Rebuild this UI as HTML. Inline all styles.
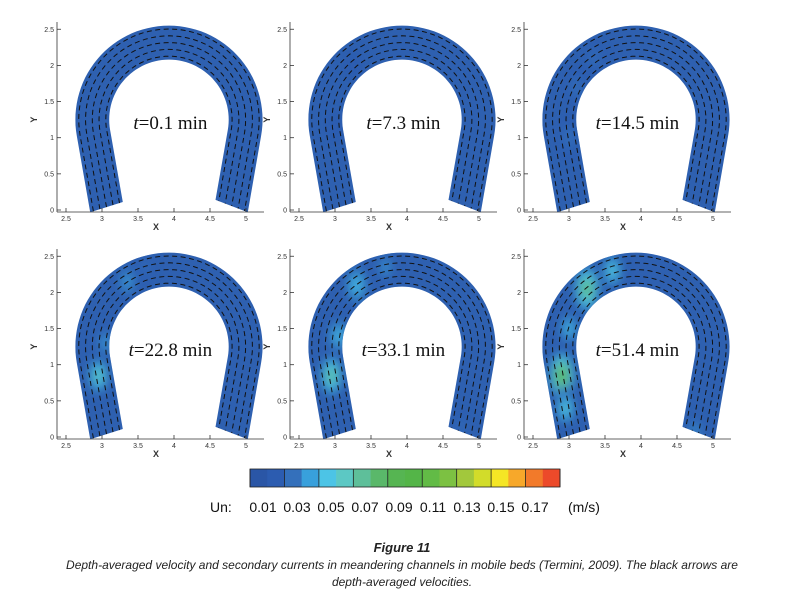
<!DOCTYPE html>
<html><head><meta charset="utf-8">
<style>
body{margin:0;background:#fff;width:804px;height:602px;overflow:hidden;font-family:"Liberation Sans",sans-serif}
.cap{position:absolute;left:0;width:804px;text-align:center;font-style:italic;color:#222}
</style></head>
<body>
<svg id="fig" width="804" height="530" style="position:absolute;left:0;top:0" xmlns="http://www.w3.org/2000/svg">
<defs>
<filter id="blur" x="-50%" y="-50%" width="200%" height="200%"><feGaussianBlur stdDeviation="5"/></filter>
</defs>
</svg>
<div class="cap" style="top:540px;font-weight:bold;font-size:13px">Figure 11</div>
<div class="cap" style="top:557px;font-size:12px;line-height:17px">Depth-averaged velocity and secondary currents in meandering channels in mobile beds (Termini, 2009). The black arrows are<br>depth-averaged velocities.</div>
<script>
const times = ["0.1","7.3","14.5","22.8","33.1","51.4"];
const xTicks = [2.5,3,3.5,4,4.5,5];
const yTicks = [0,0.5,1,1.5,2,2.5];
const levels = [0.01,0.02,0.03,0.04,0.05,0.06,0.07,0.08,0.09,0.10,0.11,0.12,0.13,0.14,0.15,0.16,0.17,0.18];
const levelLabels = ["0.01","0.03","0.05","0.07","0.09","0.11","0.13","0.15","0.17"];
const levelColors = ["#2a56a6","#2c5cb0","#3470bb","#38a0dc","#4cc4e6","#5cc8c4","#5ebf9a","#5ab86a","#56b552","#54b548","#62bb46","#7cc142","#a2c83c","#d2dc2a","#f5e625","#f7a82a","#f27a2a","#ec4a2a"];
// hotspots per panel: [x, y, value, radius(data units)]
const hot = [
 [],
 [[3.0,1.15,0.02,0.15],[3.25,2.0,0.02,0.15]],
 [[3.0,1.0,0.03,0.22],[3.1,1.7,0.025,0.2],[3.35,2.1,0.025,0.18]],
 [[2.95,0.85,0.07,0.2],[3.05,1.3,0.04,0.2],[3.35,2.15,0.04,0.22],[3.6,2.35,0.03,0.15]],
 [[2.95,0.85,0.08,0.22],[3.05,1.4,0.05,0.22],[3.3,2.1,0.05,0.25],[3.7,2.35,0.04,0.18],[4.75,0.15,0.03,0.15]],
 [[2.9,0.85,0.11,0.25],[3.0,1.5,0.05,0.2],[3.25,2.05,0.09,0.25],[3.6,2.3,0.06,0.2],[2.95,0.4,0.06,0.2],[4.75,0.1,0.04,0.15]]
];
const ns="http://www.w3.org/2000/svg";
const svg=document.getElementById('fig');
function mk(t,a,p){const e=document.createElementNS(ns,t);for(const k in a)e.setAttribute(k,a[k]);(p||svg).appendChild(e);return e;}
function colorFor(v){let i=Math.round((v-0.01)/0.01);i=Math.max(0,Math.min(levelColors.length-1,i));return levelColors[i];}
const OX=[66,299,533], OY=[210,437], SX=72, SY=72.3;
const CX=3.93, CY=1.25, RI=0.83, RO=1.3, A0=-10, A1=190;
function centerPts(r, steps){
  const f=(r-RI)/(RO-RI);
  const yl=0.11+(-0.03-0.11)*f, yr=0.14+(-0.03-0.14)*f;
  const pts=[];
  const a1=A1*Math.PI/180, a0=A0*Math.PI/180;
  const s1=[CX+r*Math.cos(a1),CY+r*Math.sin(a1)];
  const dl=[-Math.sin(a1),Math.cos(a1)];
  const Ll=(yl-s1[1])/dl[1];
  pts.push([s1[0]+dl[0]*Ll,yl]);
  for(let i=0;i<=steps;i++){const a=a1+(a0-a1)*i/steps;pts.push([CX+r*Math.cos(a),CY+r*Math.sin(a)]);}
  const s0=[CX+r*Math.cos(a0),CY+r*Math.sin(a0)];
  const dr=[Math.sin(a0),-Math.cos(a0)];
  const Lr=(yr-s0[1])/dr[1];
  pts.push([s0[0]+dr[0]*Lr,yr]);
  return pts;
}
for(let p=0;p<6;p++){
  const col=p%3,row=Math.floor(p/3);
  const ox=OX[col],oy=OY[row];
  const X=x=>ox+(x-2.5)*SX, Y=y=>oy-y*SY;
  const g=mk('g',{});
  
  
  const outer=centerPts(RO,60), inner=centerPts(RI,60).reverse();
  const d='M'+outer.concat(inner).map(q=>X(q[0]).toFixed(1)+','+Y(q[1]).toFixed(1)).join('L')+'Z';
  const cp=mk('clipPath',{id:'cp'+p},g);
  mk('path',{d},cp);
  const ch=mk('path',{d,fill:'#2e60b0'},g);
  
  
  const hg=mk('g',{'clip-path':'url(#cp'+p+')'},g);
  const hg2=mk('g',{filter:'url(#blur)'},hg);
  hot[p].forEach(h=>{
    const steps=Math.round((h[2]-0.01)/0.01);
    for(let k=1;k<=steps;k++){
      const v=0.01+k*0.01, f=1-(k-1)/steps;
      const e=mk('ellipse',{cx:X(h[0]),cy:Y(h[1]),rx:h[3]*SX*f*0.8,ry:h[3]*SY*f*1.5,fill:colorFor(v),opacity:0.85},hg2);
      
      
    }
  });
  for(let k=1;k<=5;k++){
    const r=RI+(RO-RI)*(k-0.5)/5;
    const pts=centerPts(r,60);
    const dd='M'+pts.map(q=>X(q[0]).toFixed(1)+','+Y(q[1]).toFixed(1)).join('L');
    const l=mk('path',{d:dd,fill:'none',stroke:'#111','stroke-width':1,'stroke-dasharray':'5 3.5'},g);
    
    
  }
  const ax=mk('g',{stroke:'#333','stroke-width':0.8},g);
  
  
  mk('line',{x1:ox-9,y1:Y(2.6),x2:ox-9,y2:oy+2},ax);
  mk('line',{x1:ox-9,y1:oy+2,x2:X(5.25),y2:oy+2},ax);
  xTicks.forEach(t=>{mk('line',{x1:X(t),y1:oy+2,x2:X(t),y2:oy-2},ax);
    const tx=mk('text',{x:X(t),y:oy+11,'font-size':7,'text-anchor':'middle',fill:'#333',stroke:'none'},g);tx.textContent=t;
    });
  yTicks.forEach(t=>{mk('line',{x1:ox-9,y1:Y(t),x2:ox-5,y2:Y(t)},ax);
    const ty=mk('text',{x:ox-12,y:Y(t)+2.5,'font-size':7,'text-anchor':'end',fill:'#333',stroke:'none'},g);ty.textContent=t;
    });
  const xt=mk('text',{x:X(3.75),y:oy+20,'font-size':9,'font-weight':'bold','text-anchor':'middle',fill:'#333'},g);xt.textContent='X';
  
  const yt=mk('text',{x:ox-29,y:Y(1.25),'font-size':9,'font-weight':'bold','text-anchor':'middle',fill:'#333',transform:`rotate(-90 ${ox-29} ${Y(1.25)})`},g);yt.textContent='Y';
  
  const lab=mk('text',{x:X(3.95),y:Y(1.12),'font-size':19,'text-anchor':'middle','font-family':'Liberation Serif, serif',fill:'#111'},g);
  lab.innerHTML='<tspan font-style="italic">t</tspan>='+times[p]+' min';
  
}
const cb=mk('g',{});


const cbx=250,cbw=310,cby=469,cbh=18,cw=cbw/levels.length;
levels.forEach((v,i)=>{
  const r=mk('rect',{x:cbx+i*cw,y:cby,width:cw+0.3,height:cbh,fill:colorFor(v)},cb);
  
});
for(let i=0;i<=levels.length;i+=2) mk('line',{x1:cbx+i*cw,y1:cby,x2:cbx+i*cw,y2:cby+cbh,stroke:'#222','stroke-width':0.8},cb);
mk('rect',{x:cbx,y:cby,width:cbw,height:cbh,fill:'none',stroke:'#222','stroke-width':0.8},cb);
const un=mk('text',{x:210,y:512,'font-size':14,fill:'#111'},cb);un.textContent='Un:';

levelLabels.forEach((t,i)=>{
  const tx=mk('text',{x:263+i*34,y:512,'font-size':14,'text-anchor':'middle',fill:'#111'},cb);tx.textContent=t;
  
});
const u=mk('text',{x:568,y:512,'font-size':14,fill:'#111'},cb);u.textContent='(m/s)';

</script>
</body></html>
